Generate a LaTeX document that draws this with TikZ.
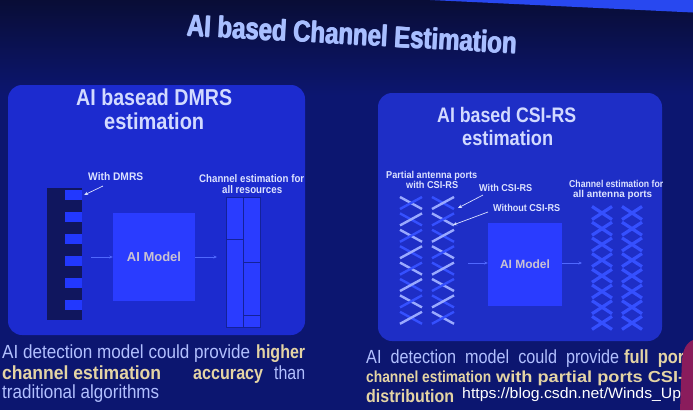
\documentclass[tikz,border=0pt]{standalone}
\usepackage{fontspec}
\setmainfont{Liberation Sans}
\usepackage{graphicx}
\usetikzlibrary{arrows.meta}
\definecolor{bgdark}{HTML}{090D36}
\definecolor{bgmid}{HTML}{0C1670}
\definecolor{wedgeblue}{HTML}{2848F0}
\definecolor{panelL}{HTML}{1C2BCF}
\definecolor{panelR}{HTML}{1E2EC6}
\definecolor{boxblue}{HTML}{2A3CFF}
\definecolor{sqblue}{HTML}{2238FF}
\definecolor{barDark}{HTML}{10165E}
\definecolor{ttl}{HTML}{A8BEFF}
\definecolor{ptitle}{HTML}{D2DAFF}
\definecolor{lbl}{HTML}{DCE2FF}
\definecolor{modeltxt}{HTML}{C9C2D2}
\definecolor{bodyblue}{HTML}{B2C0FF}
\definecolor{tanc}{HTML}{E4D4A4}
\definecolor{xlight}{HTML}{9AAAFF}
\definecolor{xbright}{HTML}{3550FF}
\definecolor{arrc}{HTML}{5068FF}
\definecolor{personc}{HTML}{8A1C5C}
\newcommand\hfit[2]{\resizebox{#1}{\height}{#2}}
\newcommand\titletext{\hfit{330pt}{\fontsize{30}{30}\selectfont\bfseries AI based Channel Estimation}}
\begin{document}
\begin{tikzpicture}[x=1pt,y=-1pt,
  txt/.style={inner sep=0pt, anchor=base west},
  panel/.style={rounded corners=14pt, inner sep=0pt},
  modelbox/.style={fill=boxblue, inner sep=0pt, text=modeltxt, font=\bfseries},
  sq/.style={fill=sqblue, inner sep=0pt, minimum width=17pt, minimum height=10pt},
  col/.style={fill=boxblue, draw=sqblue!60!black, line width=0.4pt, inner sep=0pt, minimum width=17pt, minimum height=130pt},
  flow/.style={draw=arrc, line width=0.6pt, -{Stealth[length=3.5pt,width=3pt]}},
  lblarrow/.style={draw=lbl, line width=0.7pt, -{Stealth[length=4pt,width=3.5pt]}},
  xl/.style={draw=xlight, line width=2.4pt},
  xb/.style={draw=xbright, line width=2.4pt},
  xr/.style={draw=xbright, line width=3.2pt},
  ttlnode/.style={inner sep=0pt, rotate=-3.1, text=ttl}
]
\useasboundingbox (0,0) rectangle (693,410);
% background
\fill[bgmid] (0,0) rectangle (693,410);
\shade[top color=bgdark, bottom color=bgmid] (0,0) rectangle (693,95);
\fill[wedgeblue] (430,0) -- (693,0) -- (693,12.5) -- cycle;

% title (drawn with small offsets to look heavy)
\node[ttlnode] (titleA) at (351.5,34) {\titletext};
\node[ttlnode] (titleB) at (352.5,34) {\titletext};
\node[ttlnode] (title) at (352,34.4) {\titletext};

% panels
\node[panel, fill=panelL, minimum width=297pt, minimum height=250pt] (pL) at (156.5,210) {};
\node[panel, fill=panelR, minimum width=284pt, minimum height=248pt] (pR) at (520,217) {};

% left panel titles
\node[txt, text=ptitle] (tL1) at (76,105) {\hfit{156pt}{\fontsize{23}{23}\selectfont\bfseries AI basead DMRS}};
\node[txt, text=ptitle] (tL2) at (104,129) {\hfit{100pt}{\fontsize{23}{23}\selectfont\bfseries estimation}};
% right panel titles
\node[txt, text=ptitle] (tR1) at (437,122) {\hfit{139pt}{\fontsize{21}{21}\selectfont\bfseries AI based CSI-RS}};
\node[txt, text=ptitle] (tR2) at (462,145) {\hfit{91pt}{\fontsize{21}{21}\selectfont\bfseries estimation}};

% ---- left diagram ----
\node[fill=barDark, inner sep=0pt, minimum width=35pt, minimum height=132pt] (bar) at (64.5,254) {};
\foreach \k/\yy in {1/195,2/217,3/239,4/261,5/283,6/305}
  \node[sq] (s\k) at (73.5,\yy) {};
\node[txt, text=lbl] (wdmrs) at (88,180) {\hfit{55pt}{\fontsize{11}{11}\selectfont\bfseries With DMRS}};
\coordinate (wdA) at (103,186);
\draw[lblarrow] (wdA) -- ([xshift=2pt]s1.east);

\node[modelbox, minimum width=82pt, minimum height=88pt] (mL) at (154,257)
  {\fontsize{13}{13}\selectfont AI Model};
\coordinate (inL) at (91,257);
\coordinate (outL) at (217,257);
\draw[flow] (inL) -- (mL.west);
\draw[flow] (mL.east) -- (outL);

\node[col] (cA) at (234.5,262) {};
\node[col] (cB) at (251.5,262) {};
\draw[sqblue!60!black, line width=0.4pt] (226,239) -- (243,239);
\draw[sqblue!60!black, line width=0.4pt] (243,262) -- (260,262);
\draw[sqblue!60!black, line width=0.4pt] (243,315) -- (260,315);
\node[txt, text=lbl] (ceL1) at (199,182) {\hfit{105pt}{\fontsize{11}{11}\selectfont\bfseries Channel estimation for}};
\node[txt, text=lbl] (ceL2) at (222,193) {\hfit{60pt}{\fontsize{11}{11}\selectfont\bfseries all resources}};

% ---- right diagram ----
\foreach \i in {0,...,7} {
  \pgfmathsetmacro\yy{203+16.4*\i}
  \ifodd\i
    \draw[xb] (400,\yy-6) -- (422,\yy+6);
    \draw[xl] (400,\yy+6) -- (422,\yy-6);
    \draw[xl] (432,\yy-6) -- (454,\yy+6);
    \draw[xb] (432,\yy+6) -- (454,\yy-6);
  \else
    \draw[xl] (400,\yy-6) -- (422,\yy+6);
    \draw[xb] (400,\yy+6) -- (422,\yy-6);
    \draw[xb] (432,\yy-6) -- (454,\yy+6);
    \draw[xl] (432,\yy+6) -- (454,\yy-6);
  \fi
}
\foreach \i in {0,...,7} {
  \pgfmathsetmacro\yy{213+15.7*\i}
  \draw[xr] (592,\yy-6.5) -- (612,\yy+6.5);
  \draw[xr] (592,\yy+6.5) -- (612,\yy-6.5);
  \draw[xr] (622,\yy-6.5) -- (642,\yy+6.5);
  \draw[xr] (622,\yy+6.5) -- (642,\yy-6.5);
}
\node[txt, text=lbl] (pa1) at (386,178) {\hfit{91pt}{\fontsize{10}{10}\selectfont\bfseries Partial antenna ports}};
\node[txt, text=lbl] (pa2) at (406,188) {\hfit{52pt}{\fontsize{10}{10}\selectfont\bfseries with CSI-RS}};
\node[txt, text=lbl] (wc) at (479,191) {\hfit{53pt}{\fontsize{10}{10}\selectfont\bfseries With CSI-RS}};
\node[txt, text=lbl] (woc) at (493,211) {\hfit{67pt}{\fontsize{10}{10}\selectfont\bfseries Without CSI-RS}};
\node[txt, text=lbl] (ceR1) at (569,187) {\hfit{94pt}{\fontsize{10}{10}\selectfont\bfseries Channel estimation for}};
\node[txt, text=lbl] (ceR2) at (573,197) {\hfit{79pt}{\fontsize{10}{10}\selectfont\bfseries all antenna ports}};
\coordinate (wcA) at (483,195);
\coordinate (wcB) at (458,208);
\coordinate (wocA) at (488,212);
\coordinate (wocB) at (453,225);
\draw[lblarrow] (wcA) -- (wcB);
\draw[lblarrow] (wocA) -- (wocB);

\node[modelbox, minimum width=74pt, minimum height=83pt] (mR) at (525,264.5)
  {\fontsize{12}{12}\selectfont AI Model};
\coordinate (inR) at (468,263);
\coordinate (outR) at (582,263);
\draw[flow] (inR) -- (mR.west |- inR);
\draw[flow] (mR.east |- outR) -- (outR);

% ---- bottom texts ----
\node[txt, text=bodyblue] (bl1a) at (2,358) {\hfit{248pt}{\fontsize{19}{19}\selectfont AI detection model could provide}};
\node[txt, text=tanc] (bl1b) at (256,358) {\hfit{49pt}{\fontsize{19}{19}\selectfont\bfseries higher}};
\node[txt, text=tanc] (bl2a) at (2,379) {\hfit{159pt}{\fontsize{19}{19}\selectfont\bfseries channel estimation}};
\node[txt, text=tanc] (bl2b) at (193,379) {\hfit{70pt}{\fontsize{19}{19}\selectfont\bfseries accuracy}};
\node[txt, text=bodyblue] (bl2c) at (274,379) {\hfit{31pt}{\fontsize{19}{19}\selectfont than}};
\node[txt, text=bodyblue] (bl3) at (2,398) {\hfit{157pt}{\fontsize{19}{19}\selectfont traditional algorithms}};

\node[txt, text=bodyblue] (br1a) at (366,363) {\hfit{253pt}{\fontsize{19}{19}\selectfont AI\ \ detection\ \ model\ \ could\ \ provide}};
\node[txt, text=tanc] (br1b) at (624,363) {\hfit{60pt}{\fontsize{19}{19}\selectfont\bfseries full\ \ por}};
\node[txt, text=tanc] (br2a) at (366,382) {\hfit{125pt}{\fontsize{16}{16}\selectfont\bfseries channel estimation}};
\node[txt, text=tanc] (br2b) at (496,382) {\hfit{188pt}{\fontsize{16}{16}\selectfont\bfseries with partial ports CSI-}};
\node[txt, text=tanc] (br3) at (366,402) {\hfit{88pt}{\fontsize{18}{18}\selectfont\bfseries distribution}};

% watermark
\node[txt, text=white] (wm) at (462,398) {\hfit{219pt}{\fontsize{15}{15}\selectfont https://blog.csdn.net/Winds\_Up}};

% person at right edge
\fill[personc] (693,340) .. controls (686,343) and (683,350) .. (682,360) -- (680,410) -- (693,410) -- cycle;
\end{tikzpicture}
\end{document}
